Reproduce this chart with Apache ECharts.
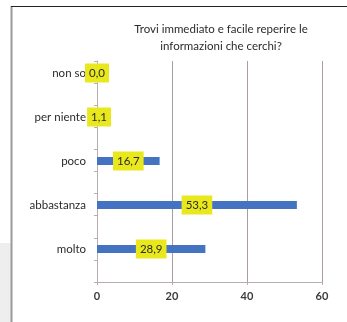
<!DOCTYPE html>
<html>
<head>
<meta charset="utf-8">
<script src="https://cdn.jsdelivr.net/npm/echarts@6/dist/echarts.min.js"></script>
<style>
  html, body { margin: 0; padding: 0; background: #ffffff; }
  #chart { width: 347px; height: 322px; }
</style>
</head>
<body>
<div id="chart"></div>
<script>
// Survey answers, top to bottom
const categories = ['non so', 'per niente', 'poco', 'abbastanza', 'molto'];
// Share of respondents (%)
const values = [0.0, 1.1, 16.7, 53.3, 28.9];
// Horizontal scale
const xMin = 0, xMax = 60, xStep = 20;

const titleText = 'Trovi immediato e facile reperire le\ninformazioni che cerchi?';
const fontFamily = 'Lato, "Open Sans", sans-serif';
const textColor = '#2b2b2b';

const chart = echarts.init(document.getElementById('chart'), null, { renderer: 'canvas' });

chart.setOption({
  animation: false,
  backgroundColor: '#ffffff',
  title: {
    text: titleText,
    left: 216,
    top: 16,
    textAlign: 'center',
    textStyle: {
      fontFamily: fontFamily,
      fontSize: 11.5,
      fontWeight: 'normal',
      color: textColor,
      lineHeight: 17
    }
  },
  graphic: [
    // page frame
    { type: 'rect', shape: { x: 0, y: 243, width: 11, height: 79 }, style: { fill: '#eeeeee' }, silent: true },
    { type: 'line', shape: { x1: 11.5, y1: 6, x2: 11.5, y2: 322 }, style: { stroke: '#9a9a9a', lineWidth: 2 }, silent: true },
    { type: 'line', shape: { x1: 11, y1: 6.5, x2: 347, y2: 6.5 }, style: { stroke: '#222222', lineWidth: 1.2 }, silent: true }
  ],
  grid: [
    // frame grid: gridlines and axes
    { left: 97, top: 61, right: 25, height: 221 },
    // bar grid: category bands
    { left: 97, top: 51, right: 25, height: 220 }
  ],
  xAxis: [
    {
      gridIndex: 0,
      type: 'value',
      min: xMin, max: xMax, interval: xStep,
      axisLine: { show: true, lineStyle: { color: '#b8aeae', width: 1 } },
      axisTick: { show: true, length: 3, lineStyle: { color: '#b8aeae' } },
      splitLine: { show: true, lineStyle: { color: '#a89e9e', width: 1 } },
      axisLabel: { color: '#3a3a3a', fontFamily: fontFamily, fontSize: 11, margin: 9, fontWeight: 'bold' }
    },
    {
      gridIndex: 1,
      type: 'value',
      min: xMin, max: xMax, interval: xStep,
      show: false
    }
  ],
  yAxis: [
    {
      gridIndex: 0,
      type: 'value',
      min: 0, max: 10, interval: 1,
      axisLine: { show: true, lineStyle: { color: '#b8aeae', width: 1 } },
      axisTick: { show: true, length: 3, lineStyle: { color: '#b8aeae' } },
      splitLine: { show: false },
      axisLabel: { show: false }
    },
    {
      gridIndex: 1,
      type: 'category',
      inverse: true,
      data: categories,
      axisLine: { show: false },
      axisTick: { show: false },
      splitLine: { show: false },
      axisLabel: { color: textColor, fontFamily: fontFamily, fontSize: 11.5, margin: 11 }
    }
  ],
  series: [
    {
      type: 'bar',
      xAxisIndex: 1,
      yAxisIndex: 1,
      data: values,
      barWidth: 8,
      itemStyle: { color: '#4373c1' },
      label: {
        show: true,
        position: 'inside',
        formatter: p => p.value.toFixed(1).replace('.', ','),
        color: textColor,
        fontFamily: fontFamily,
        fontSize: 11.5,
        backgroundColor: '#e8e81c',
        padding: [4, 4, 3, 4]
      }
    }
  ]
});
</script>
</body>
</html>
